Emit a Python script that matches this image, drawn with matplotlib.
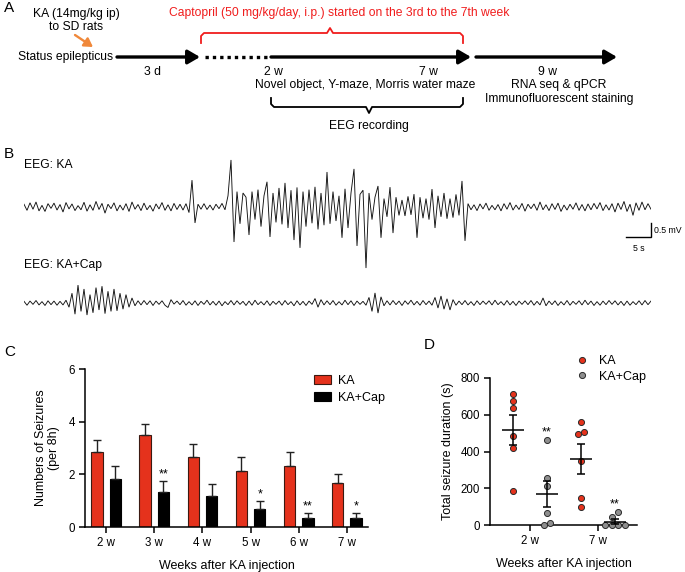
import numpy as np
import matplotlib
matplotlib.use('Agg')
import matplotlib.pyplot as plt
from matplotlib.lines import Line2D

plt.rcParams['font.family'] = ['Liberation Sans', 'DejaVu Sans']

W, H = 685, 572
fig = plt.figure(figsize=(W / 100, H / 100), dpi=100)
fig.patch.set_facecolor('white')

# ---------------- data ----------------
weeks = ['2 w', '3 w', '4 w', '5 w', '6 w', '7 w']
ka_mean = [2.83, 3.49, 2.66, 2.14, 2.32, 1.66]
ka_sem = [0.49, 0.44, 0.50, 0.51, 0.51, 0.35]
cap_mean = [1.83, 1.33, 1.17, 0.67, 0.33, 0.35]
cap_sem = [0.48, 0.42, 0.47, 0.33, 0.20, 0.19]
cap_sig = ['', '**', '', '*', '**', '*']

dur_ticks = ['2 w', '7 w']
dur_ka_2w = [713, 676, 635, 482, 418, 185]
dur_cap_2w = [464, 255, 211, 67, 13, 0]
dur_ka_7w = [558, 504, 495, 351, 145, 100]
dur_cap_7w = [69, 45, 0, 0, 0, 0]
dur_sig = ['**', '**']

eeg_dt = 0.6  # seconds per sample
eeg_ka = [
    0.10, -0.12, 0.15, -0.08, 0.18, -0.14, 0.06, -0.16, 0.12, -0.05,
    0.14, -0.11, 0.09, -0.18, 0.16, -0.07, 0.11, -0.13, 0.05, -0.10,
    0.17, -0.15, 0.08, -0.12, 0.20, -0.09, 0.13, -0.22, 0.10, -0.06,
    0.15, -0.14, 0.07, -0.11, 0.12, -0.16, 0.18, -0.08, 0.09, -0.13,
    0.14, -0.10, 0.06, -0.15, 0.11, -0.07, 0.16, -0.12, 0.08, -0.14,
    0.13, -0.09, 0.10, -0.11,
    0.12, -0.20, 0.96, -0.57,
    0.10, -0.08, 0.12, -0.09, 0.07, -0.11, 0.10, -0.06, 0.13, -0.10,
    0.40, 1.68, -1.25, 0.55, -0.60, 0.50, 0.35, -1.00, 0.55, -0.45,
    0.62, -0.70, 0.40, 0.90, -1.07, 0.50, -0.55, 0.68, -0.62, 0.86,
    -0.75, 0.60, -1.18, 0.70, -1.46, 0.55, -0.70, 0.62, -0.58, 0.72,
    -0.80, 0.50, -0.65, 1.25, -0.60, 0.55, -0.50, 0.40, -1.10, 0.65,
    -0.75, 0.50, 1.36, -1.39, 0.45, 0.60, -2.18, 0.50, -0.45, 0.35,
    0.75, -1.10, 0.30, -0.35, 0.71, -0.93, 0.35, -0.30, 0.25, -0.32,
    0.38, -0.28, 0.46, -1.10, 0.35, -0.40, 0.30, -0.45, 0.64, -0.75,
    0.40, -0.35, 0.50, -0.42, 0.30, -0.38, 0.45, -0.30, 0.93, -1.21,
    0.12, -0.10, 0.08, -0.13, 0.11, -0.07, 0.14, -0.12, 0.06, -0.10,
    0.09, -0.14, 0.12, -0.08, 0.16, -0.11, 0.07, -0.09, 0.13, -0.15,
    0.10, -0.06, 0.11, -0.12, 0.18, -0.10, 0.08, -0.13, 0.12, -0.09,
    0.14, -0.16, 0.07, -0.11, 0.10, -0.08, 0.15, -0.12, 0.09, -0.14,
    0.11, -0.10, 0.13, -0.07, 0.16, -0.13, 0.08, -0.11, 0.12, -0.18,
    0.14, -0.09, 0.20, -0.16, 0.10, -0.30, 0.15, -0.12, 0.18, -0.10,
    0.12, -0.08,
]
eeg_cap = [
    0.06, -0.08, 0.07, -0.05, 0.09, -0.07, 0.05, -0.09, 0.08, -0.06,
    0.07, -0.08, 0.06, -0.07, 0.10,
    -0.15, 0.35, -0.40, 0.64, -0.30, 0.50, -0.43, 0.30, -0.35, 0.55,
    -0.25, 0.60, -0.38, 0.42, -0.30, 0.50, -0.28, 0.35, -0.22, 0.30,
    -0.15, 0.18,
    -0.10, 0.08, -0.07, 0.09, -0.06, 0.08, -0.09, 0.07, -0.05, 0.08,
    -0.08, -0.16, 0.12, -0.04,
    0.07, -0.06, 0.09, -0.08, 0.05, -0.07, 0.08, -0.09, 0.06, -0.05,
    0.10, -0.07, 0.06, -0.08, 0.07, -0.10, 0.05, -0.06, 0.09, -0.07,
    0.08, -0.05, 0.06, -0.09, 0.07, -0.08, 0.10, -0.06, 0.05, -0.07,
    0.08, -0.09, 0.06, -0.05, 0.07, -0.08, 0.09, -0.06, 0.05, -0.10,
    0.08, -0.07, 0.06, -0.09, 0.07, -0.05,
    0.16, -0.15, 0.12,
    -0.07, 0.08, -0.06, 0.09, -0.08, 0.05, -0.07, 0.10, -0.06, 0.08,
    -0.09, 0.07, -0.05, 0.06, -0.08,
    0.20, -0.30, 0.36, -0.36, 0.22,
    -0.10, 0.08, -0.07, 0.09, -0.06, 0.07, -0.09, 0.08, -0.05, 0.10,
    -0.07, 0.06, -0.08, 0.09, -0.06, 0.07, -0.08,
    0.20, -0.18, 0.25, -0.22, 0.15, -0.25, 0.12,
    -0.08, 0.07, -0.06, 0.09, -0.07, 0.05, -0.09, 0.08, -0.06, 0.07,
    -0.05, 0.08, -0.07, 0.10, -0.06, 0.05, -0.08, 0.09, -0.07, 0.06,
    -0.09, 0.07, -0.05, 0.08, -0.06, 0.09, -0.08, 0.06, -0.07,
    0.18, -0.10,
    0.07, -0.06, 0.08, -0.09, 0.05, -0.07, 0.09, -0.08, 0.06, -0.05,
    0.08, -0.07, 0.10, -0.06, 0.07, -0.09, 0.05, -0.08, 0.07, -0.06,
    0.09, -0.05, 0.08, -0.07, 0.06, -0.09, 0.07, -0.08, 0.05, -0.06,
    0.08, -0.07, 0.09, -0.06, 0.07,
]

RED = '#e5321c'
GREY = '#8e8e8e'
FS = 8.7


def px_axes(x0, y0, x1, y1):
    return fig.add_axes([x0 / W, 1 - y1 / H, (x1 - x0) / W, (y1 - y0) / H])


# ---------------- panel B: EEG traces ----------------
MV_PER_PX = 0.5 / 14.0
PX_PER_S = 5.0


def trace_axes(vals, x0, base_y, top_y, bot_y):
    n = len(vals)
    t = np.arange(n) * eeg_dt
    x1 = x0 + t[-1] * PX_PER_S
    ax = px_axes(x0, top_y, x1, bot_y)
    ax.set_xlim(0, t[-1])
    ax.set_ylim(-(bot_y - base_y) * MV_PER_PX, (base_y - top_y) * MV_PER_PX)
    ax.plot(t, vals, color='#111111', lw=0.65, solid_joinstyle='miter')
    ax.axis('off')
    return ax, t


ax_ka, t_ka = trace_axes(eeg_ka, 24, 207, 150, 275)
ax_cap, t_cap = trace_axes(eeg_cap, 24, 303, 280, 326)

# scale bar (5 s, 0.5 mV)
tend = t_ka[-1]
vb = -(237 - 207) * MV_PER_PX
ax_ka.plot([tend - 5, tend, tend], [vb, vb, vb + 0.5], color='k', lw=1.0,
           clip_on=False, solid_joinstyle='miter')
ax_ka.text(tend + 0.5, vb + 0.25, '0.5 mV', fontsize=6.3, ha='left', va='center')
ax_ka.text(tend - 2.5, vb - 0.25, '5 s', fontsize=6.3, ha='center', va='top')

# ---------------- panel C: bar chart ----------------
cax = px_axes(85, 369, 368, 527)
x = np.arange(len(weeks))
bw, off = 0.24, 0.19
ekw = dict(elinewidth=1.0, capthick=1.0, ecolor='#222222')
b1 = cax.bar(x - off, ka_mean, bw, color=RED, edgecolor='#3b1a12', lw=0.8,
             yerr=[np.zeros(len(ka_sem)), ka_sem], capsize=2.9, error_kw=ekw,
             label='KA')
b2 = cax.bar(x + off, cap_mean, bw, color='black', edgecolor='black', lw=0.8,
             yerr=[np.zeros(len(cap_sem)), cap_sem], capsize=2.9, error_kw=ekw,
             label='KA+Cap')
for xi, m, s, lab in zip(x, cap_mean, cap_sem, cap_sig):
    if lab:
        cax.annotate(lab, (xi + off, m + s), xytext=(0, 2.5),
                     textcoords='offset points', ha='center', va='baseline',
                     fontsize=9)
cax.set_xlim(-0.44, 5.44)
cax.set_ylim(0, 6)
cax.set_yticks([0, 2, 4, 6])
cax.set_xticks(x)
cax.set_xticklabels(weeks)
for s in ['top', 'right']:
    cax.spines[s].set_visible(False)
for s in ['left', 'bottom']:
    cax.spines[s].set_linewidth(1.1)
cax.tick_params(length=4, width=1.1, labelsize=8.3, pad=3)
cax.set_ylabel('Numbers of Seizures\n(per 8h)', fontsize=9, labelpad=6)
cax.set_xlabel('Weeks after KA injection', fontsize=9, labelpad=8)
cax.legend(handles=[b1, b2], labels=['KA', 'KA+Cap'], loc='upper left',
           bbox_to_anchor=(314 / W, 1 - 375 / H), bbox_transform=fig.transFigure,
           frameon=False, fontsize=9, handlelength=1.35, handleheight=0.75,
           handletextpad=0.6, labelspacing=0.4, borderpad=0, borderaxespad=0)

# ---------------- panel D: scatter ----------------
dax = px_axes(490, 378, 637, 525)
dax.set_xlim(-0.68, 3.65)
dax.set_ylim(0, 800)
px_per_val = 147.0 / 800.0


def swarm(vals, diam=5.5, step=0.19):
    v = np.asarray(vals, float)
    order = np.argsort(v, kind='stable')
    offs = np.zeros(len(v))
    clusters = [[order[0]]]
    for a, b in zip(order[:-1], order[1:]):
        if (v[b] - v[a]) * px_per_val < diam:
            clusters[-1].append(b)
        else:
            clusters.append([b])
    for c in clusters:
        k = len(c)
        for j, idx in enumerate(c):
            offs[idx] = (j - (k - 1) / 2) * step
    return offs


groups = [(dur_ka_2w, RED), (dur_cap_2w, GREY), (dur_ka_7w, RED), (dur_cap_7w, GREY)]
for pos, (vals, col) in enumerate(groups):
    v = np.asarray(vals, float)
    xs = pos + swarm(v)
    dax.scatter(xs, v, s=19, facecolor=col, edgecolor='#2a2a2a', lw=0.7,
                zorder=3, clip_on=False)
    m = v.mean()
    sem = v.std(ddof=1) / np.sqrt(len(v))
    dax.hlines(m, pos - 0.33, pos + 0.33, color='black', lw=1.1, zorder=4)
    dax.errorbar(pos, m, yerr=sem, fmt='none', ecolor='black', elinewidth=1.1,
                 capsize=2.8, capthick=1.1, zorder=4)
for pos, vals, lab in zip([1, 3], [dur_cap_2w, dur_cap_7w], dur_sig):
    dax.annotate(lab, (pos, max(vals)), xytext=(0, 3.2), textcoords='offset points',
                 ha='center', va='baseline', fontsize=9)
dax.set_yticks([0, 200, 400, 600, 800])
dax.set_xticks([0.5, 2.5])
dax.set_xticklabels(dur_ticks)
for s in ['top', 'right']:
    dax.spines[s].set_visible(False)
for s in ['left', 'bottom']:
    dax.spines[s].set_linewidth(1.1)
dax.tick_params(length=4, width=1.1, labelsize=8.3, pad=3)
dax.set_ylabel('Total seizure duration (s)', fontsize=9, labelpad=5)
dax.set_xlabel('Weeks after KA injection', fontsize=9, labelpad=8)
h1 = Line2D([], [], ls='none', marker='o', ms=4.4, mfc=RED, mec='#2a2a2a', mew=0.7)
h2 = Line2D([], [], ls='none', marker='o', ms=4.4, mfc=GREY, mec='#2a2a2a', mew=0.7)
dax.legend([h1, h2], ['KA', 'KA+Cap'], loc='upper left',
           bbox_to_anchor=(576 / W, 1 - 355 / H), bbox_transform=fig.transFigure,
           frameon=False, fontsize=9, handlelength=1.0, handletextpad=0.85,
           labelspacing=0.3, borderpad=0, borderaxespad=0)

# ---------------- panel A schematic + labels (pixel overlay) ----------------
ov = px_axes(0, 0, W, H)
ov.set_xlim(0, W)
ov.set_ylim(H, 0)
ov.axis('off')

for lab, (lx, ly) in {'A': (4, 8), 'B': (4, 154), 'C': (4, 352), 'D': (424, 345)}.items():
    ov.text(lx, ly, lab, fontsize=11, ha='left', va='center')

ov.text(76, 14, 'KA (14mg/kg ip)', ha='center', va='center', fontsize=FS)
ov.text(76, 27, 'to SD rats', ha='center', va='center', fontsize=FS)
ov.annotate('', xy=(93, 47), xytext=(75, 35),
            arrowprops=dict(arrowstyle='-|>,head_length=0.5,head_width=0.3',
                            color='#f0883a', lw=1.7, mutation_scale=10,
                            shrinkA=0, shrinkB=0))
ov.text(18, 57, 'Status epilepticus', ha='left', va='center', fontsize=FS)

arrow_kw = dict(arrowstyle='-|>,head_length=0.6,head_width=0.35', color='black',
                lw=2.4, mutation_scale=12, shrinkA=0, shrinkB=0)
ov.annotate('', xy=(200, 57), xytext=(117, 57), arrowprops=arrow_kw)
ov.plot([205, 268], [57, 57], color='black', lw=2.4, ls=(0, (1.0, 1.2)),
        solid_capstyle='butt', dash_capstyle='butt')
ov.annotate('', xy=(471, 57), xytext=(271, 57), arrowprops=arrow_kw)
ov.annotate('', xy=(617, 57), xytext=(476, 57), arrowprops=arrow_kw)

ov.text(339, 13, 'Captopril (50 mg/kg/day, i.p.) started on the 3rd to the 7th week',
        color='#f01d1d', ha='center', va='center', fontsize=FS)
# red bracket
bx0, bx1, bxm = 201, 463, 330
ov.plot([bx0, bx0, bx0 + 3, bxm - 3, bxm, bxm + 3, bx1 - 3, bx1, bx1],
        [43, 36, 33, 33, 28, 33, 33, 36, 43], color='#f01d1d', lw=1.3,
        solid_joinstyle='round')
# black bracket
kx0, kx1, kxm = 271, 463, 369
ov.plot([kx0, kx0, kx0 + 3, kxm - 3, kxm, kxm + 3, kx1 - 3, kx1, kx1],
        [98, 104, 107, 107, 113, 107, 107, 104, 98], color='black', lw=1.3,
        solid_joinstyle='round')

ov.text(153, 72, '3 d', ha='center', va='center', fontsize=FS)
ov.text(273, 72, '2 w', ha='center', va='center', fontsize=FS)
ov.text(428, 72, '7 w', ha='center', va='center', fontsize=FS)
ov.text(548, 72, '9 w', ha='center', va='center', fontsize=FS)
ov.text(365, 85, 'Novel object, Y-maze, Morris water maze', ha='center', va='center',
        fontsize=FS)
ov.text(559, 85, 'RNA seq & qPCR', ha='center', va='center', fontsize=FS)
ov.text(559, 99, 'Immunofluorescent staining', ha='center', va='center', fontsize=FS)
ov.text(369, 126, 'EEG recording', ha='center', va='center', fontsize=FS)

ov.text(24, 165, 'EEG: KA', ha='left', va='center', fontsize=FS)
ov.text(24, 265, 'EEG: KA+Cap', ha='left', va='center', fontsize=FS)

fig.savefig('out.png', dpi=100, facecolor='white')
